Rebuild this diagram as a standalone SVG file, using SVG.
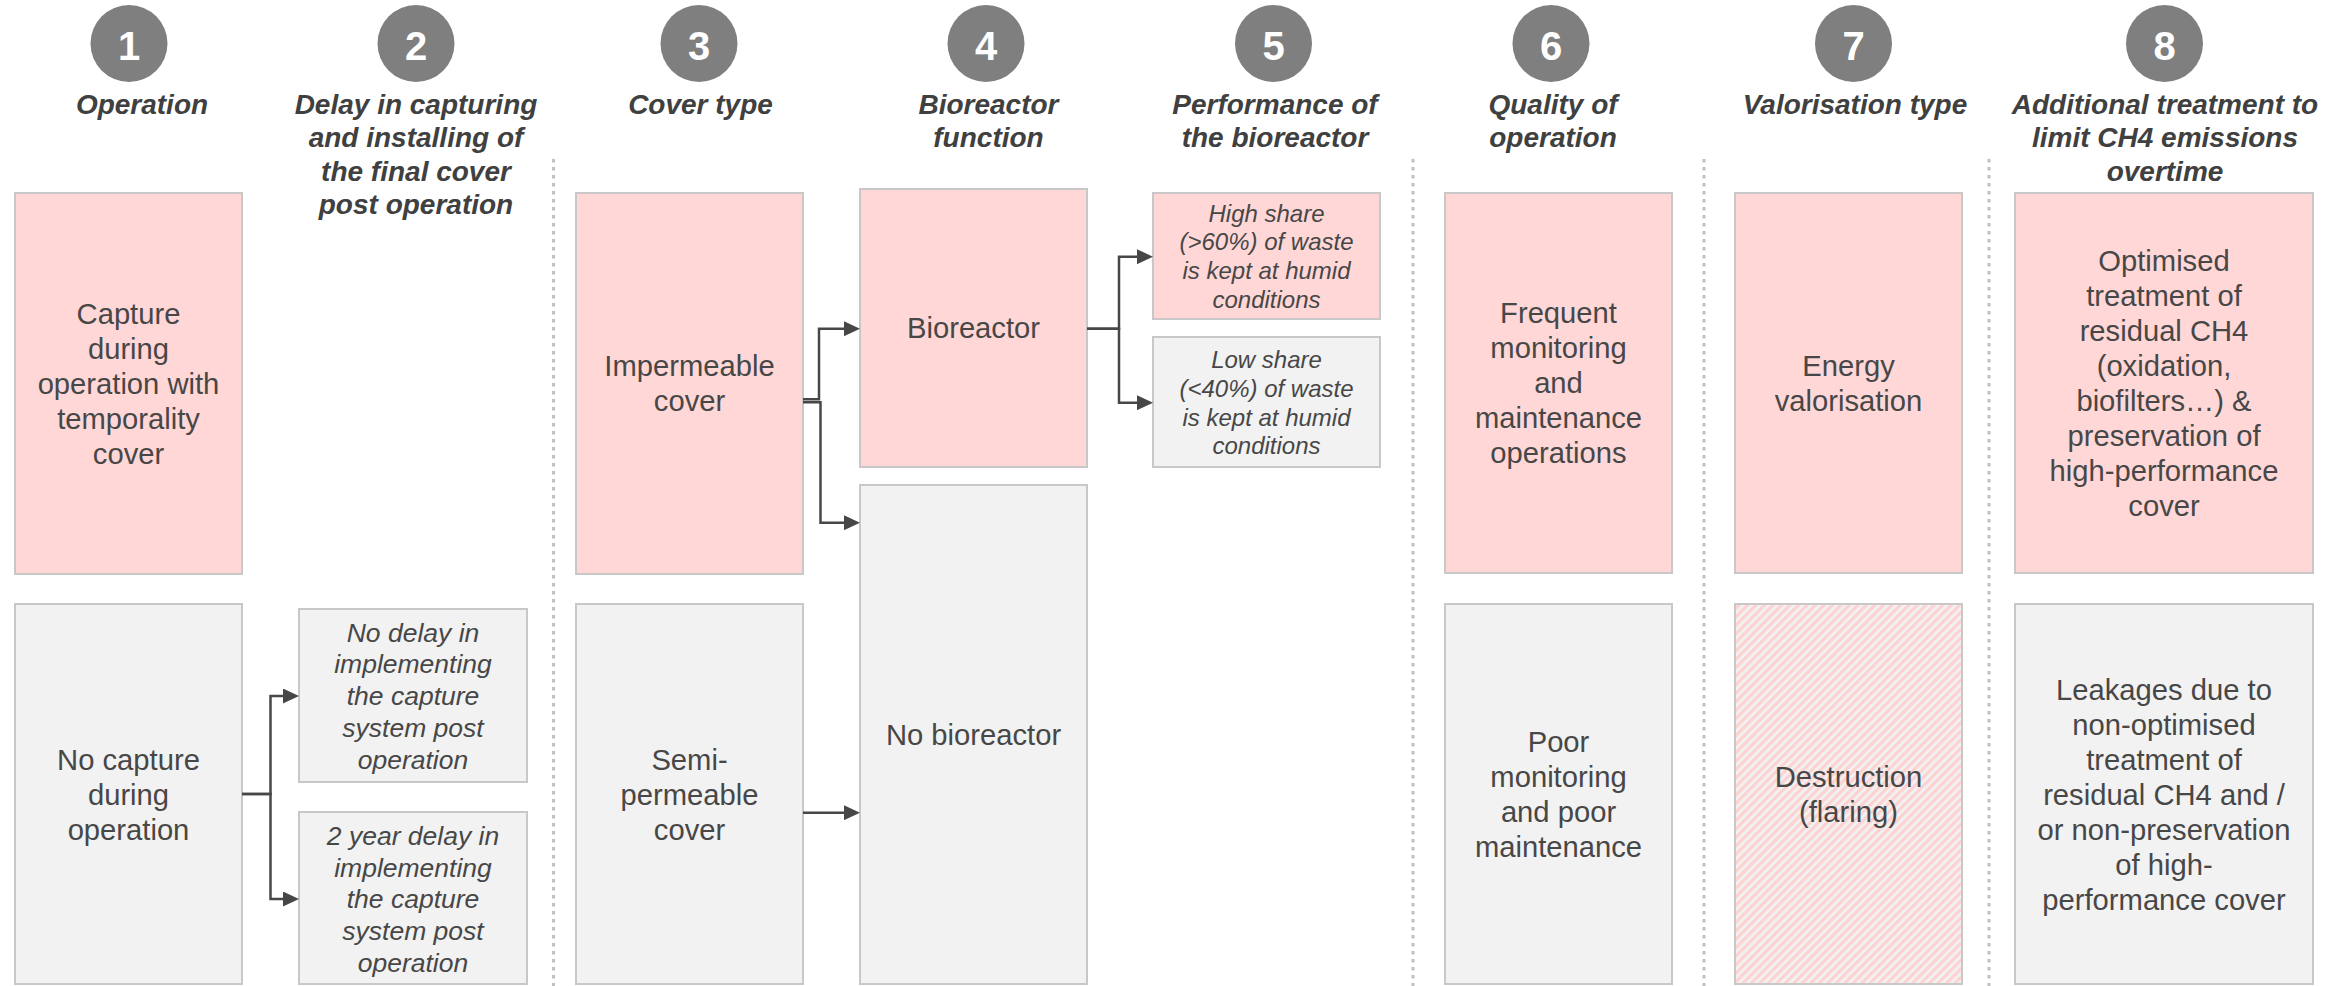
<svg xmlns="http://www.w3.org/2000/svg" width="2346" height="986" viewBox="0 0 2346 986">
<style>
.bg{fill:#ffffff}
.pink{fill:#ffd7d7;stroke:#c8c8c8;stroke-width:2}
.gray{fill:#f2f2f2;stroke:#c8c8c8;stroke-width:2}
.hatch{fill:url(#stripes);stroke:#c8c8c8;stroke-width:2}
.circ{fill:#7f7f7f}
.num{font-family:"Liberation Sans",Arial,sans-serif;font-weight:bold;font-size:40px;fill:#ffffff;text-anchor:middle}
.hdr{font-family:"Liberation Sans",Arial,sans-serif;font-weight:bold;font-style:italic;font-size:28px;fill:#404040;text-anchor:middle}
.txt{font-family:"Liberation Sans",Arial,sans-serif;font-size:29.2px;fill:#474747;text-anchor:middle}
.sm{font-family:"Liberation Sans",Arial,sans-serif;font-style:italic;font-size:26.5px;fill:#474747;text-anchor:middle}
.xs{font-family:"Liberation Sans",Arial,sans-serif;font-style:italic;font-size:24px;fill:#474747;text-anchor:middle}
.sep{stroke:#c0c0c0;stroke-width:3;stroke-dasharray:3.5 4.5;fill:none}
.conn{stroke:#474747;stroke-width:2.5;fill:none;marker-end:url(#arr)}
</style>
<defs>
<pattern id="stripes" patternUnits="userSpaceOnUse" width="6" height="6" patternTransform="rotate(45)">
<rect width="6" height="6" fill="#f2f2f2"/>
<rect width="3.2" height="6" fill="#ffd2d2"/>
</pattern>
<marker id="arr" markerUnits="userSpaceOnUse" markerWidth="17" markerHeight="15" refX="8" refY="7.5" orient="auto">
<path d="M0,0 L16,7.5 L0,15 z" fill="#474747"/>
</marker>
</defs>
<rect class="bg" x="0" y="0" width="2346" height="986"/>

<g id="separators">
<line class="sep" x1="553.5" y1="159" x2="553.5" y2="986"/>
<line class="sep" x1="1413" y1="159" x2="1413" y2="986"/>
<line class="sep" x1="1704" y1="159" x2="1704" y2="986"/>
<line class="sep" x1="1989" y1="159" x2="1989" y2="986"/>
</g>

<g id="headers">
<g id="h1"><circle class="circ" cx="129" cy="43.5" r="38.5"/><text class="num" x="129" y="59.5">1</text><text class="hdr" x="142" y="114">Operation</text></g>
<g id="h2"><circle class="circ" cx="416" cy="43.5" r="38.5"/><text class="num" x="416" y="59.5">2</text><text class="hdr" x="416" y="114">Delay in capturing<tspan x="416" dy="33.3">and installing of</tspan><tspan x="416" dy="33.3">the final cover</tspan><tspan x="416" dy="33.3">post operation</tspan></text></g>
<g id="h3"><circle class="circ" cx="699" cy="43.5" r="38.5"/><text class="num" x="699" y="59.5">3</text><text class="hdr" x="700.5" y="114">Cover type</text></g>
<g id="h4"><circle class="circ" cx="986" cy="43.5" r="38.5"/><text class="num" x="986" y="59.5">4</text><text class="hdr" x="988.5" y="114">Bioreactor<tspan x="988.5" dy="33.3">function</tspan></text></g>
<g id="h5"><circle class="circ" cx="1273.5" cy="43.5" r="38.5"/><text class="num" x="1273.5" y="59.5">5</text><text class="hdr" x="1275" y="114">Performance of<tspan x="1275" dy="33.3">the bioreactor</tspan></text></g>
<g id="h6"><circle class="circ" cx="1551" cy="43.5" r="38.5"/><text class="num" x="1551" y="59.5">6</text><text class="hdr" x="1553" y="114">Quality of<tspan x="1553" dy="33.3">operation</tspan></text></g>
<g id="h7"><circle class="circ" cx="1853.5" cy="43.5" r="38.5"/><text class="num" x="1853.5" y="59.5">7</text><text class="hdr" x="1855" y="114">Valorisation type</text></g>
<g id="h8"><circle class="circ" cx="2164.5" cy="43.5" r="38.5"/><text class="num" x="2164.5" y="59.5">8</text><text class="hdr" x="2165" y="114">Additional treatment to<tspan x="2165" dy="33.3">limit CH4 emissions</tspan><tspan x="2165" dy="33.3">overtime</tspan></text></g>
</g>

<g id="capture">
<rect class="pink" x="15" y="193" width="227" height="381"/>
<text class="txt" x="128.5" y="323.5">Capture<tspan x="128.5" dy="35">during</tspan><tspan x="128.5" dy="35">operation with</tspan><tspan x="128.5" dy="35">temporality</tspan><tspan x="128.5" dy="35">cover</tspan></text>
</g>
<g id="no-capture">
<rect class="gray" x="15" y="604" width="227" height="380"/>
<text class="txt" x="128.5" y="769.5">No capture<tspan x="128.5" dy="35">during</tspan><tspan x="128.5" dy="35">operation</tspan></text>
</g>
<g id="no-delay">
<rect class="gray" x="299" y="609" width="228" height="173"/>
<text class="sm" x="413" y="641.7">No delay in<tspan x="413" dy="31.7">implementing</tspan><tspan x="413" dy="31.7">the capture</tspan><tspan x="413" dy="31.7">system post</tspan><tspan x="413" dy="31.7">operation</tspan></text>
</g>
<g id="two-year-delay">
<rect class="gray" x="299" y="812" width="228" height="172"/>
<text class="sm" x="413" y="845">2 year delay in<tspan x="413" dy="31.7">implementing</tspan><tspan x="413" dy="31.7">the capture</tspan><tspan x="413" dy="31.7">system post</tspan><tspan x="413" dy="31.7">operation</tspan></text>
</g>
<g id="impermeable">
<rect class="pink" x="576" y="193" width="227" height="381"/>
<text class="txt" x="689.5" y="376">Impermeable<tspan x="689.5" dy="35">cover</tspan></text>
</g>
<g id="semi-permeable">
<rect class="gray" x="576" y="604" width="227" height="380"/>
<text class="txt" x="689.5" y="769.5">Semi-<tspan x="689.5" dy="35">permeable</tspan><tspan x="689.5" dy="35">cover</tspan></text>
</g>
<g id="bioreactor">
<rect class="pink" x="860" y="189" width="227" height="278"/>
<text class="txt" x="973.5" y="338">Bioreactor</text>
</g>
<g id="no-bioreactor">
<rect class="gray" x="860" y="485" width="227" height="499"/>
<text class="txt" x="973.5" y="745">No bioreactor</text>
</g>
<g id="high-share">
<rect class="pink" x="1153" y="193" width="227" height="126"/>
<text class="xs" x="1266.5" y="221.7">High share<tspan x="1266.5" dy="28.7">(&gt;60%) of waste</tspan><tspan x="1266.5" dy="28.7">is kept at humid</tspan><tspan x="1266.5" dy="28.7">conditions</tspan></text>
</g>
<g id="low-share">
<rect class="gray" x="1153" y="337" width="227" height="130"/>
<text class="xs" x="1266.5" y="368.3">Low share<tspan x="1266.5" dy="28.7">(&lt;40%) of waste</tspan><tspan x="1266.5" dy="28.7">is kept at humid</tspan><tspan x="1266.5" dy="28.7">conditions</tspan></text>
</g>
<g id="frequent">
<rect class="pink" x="1445" y="193" width="227" height="380"/>
<text class="txt" x="1558.5" y="323">Frequent<tspan x="1558.5" dy="35">monitoring</tspan><tspan x="1558.5" dy="35">and</tspan><tspan x="1558.5" dy="35">maintenance</tspan><tspan x="1558.5" dy="35">operations</tspan></text>
</g>
<g id="poor">
<rect class="gray" x="1445" y="604" width="227" height="380"/>
<text class="txt" x="1558.5" y="752">Poor<tspan x="1558.5" dy="35">monitoring</tspan><tspan x="1558.5" dy="35">and poor</tspan><tspan x="1558.5" dy="35">maintenance</tspan></text>
</g>
<g id="energy">
<rect class="pink" x="1735" y="193" width="227" height="380"/>
<text class="txt" x="1848.5" y="375.5">Energy<tspan x="1848.5" dy="35">valorisation</tspan></text>
</g>
<g id="destruction">
<rect class="hatch" x="1735" y="604" width="227" height="380"/>
<text class="txt" x="1848.5" y="787">Destruction<tspan x="1848.5" dy="35">(flaring)</tspan></text>
</g>
<g id="optimised">
<rect class="pink" x="2015" y="193" width="298" height="380"/>
<text class="txt" x="2164" y="270.5">Optimised<tspan x="2164" dy="35">treatment of</tspan><tspan x="2164" dy="35">residual CH4</tspan><tspan x="2164" dy="35">(oxidation,</tspan><tspan x="2164" dy="35">biofilters…) &amp;</tspan><tspan x="2164" dy="35">preservation of</tspan><tspan x="2164" dy="35">high-performance</tspan><tspan x="2164" dy="35">cover</tspan></text>
</g>
<g id="leakages">
<rect class="gray" x="2015" y="604" width="298" height="380"/>
<text class="txt" x="2164" y="699.5">Leakages due to<tspan x="2164" dy="35">non-optimised</tspan><tspan x="2164" dy="35">treatment of</tspan><tspan x="2164" dy="35">residual CH4 and /</tspan><tspan x="2164" dy="35">or non-preservation</tspan><tspan x="2164" dy="35">of high-</tspan><tspan x="2164" dy="35">performance cover</tspan></text>
</g>

<g id="connectors">
<path class="conn" d="M242,794 H270.5 V696 H291"/>
<path class="conn" d="M242,794 H270.5 V899 H291"/>
<path class="conn" d="M803,399.3 H819 V328.7 H852"/>
<path class="conn" d="M803,402.3 H820.5 V522.7 H852"/>
<path class="conn" d="M803,812.7 H852"/>
<path class="conn" d="M1087,328.7 H1119 V256.7 H1145"/>
<path class="conn" d="M1087,328.7 H1119 V402.7 H1145"/>
</g>
</svg>
